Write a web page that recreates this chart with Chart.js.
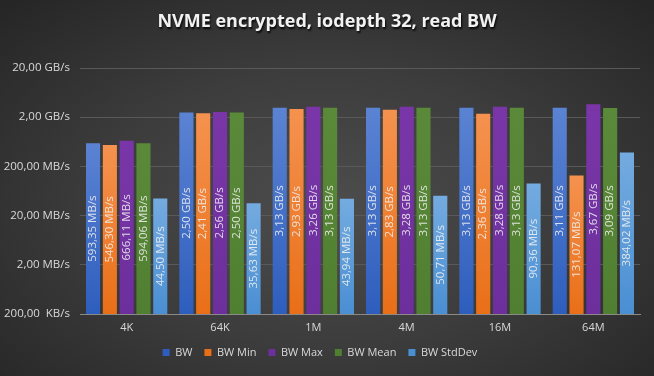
<!DOCTYPE html>
<html><head><meta charset="utf-8">
<script src="https://cdn.jsdelivr.net/npm/chart.js@4"></script>
<style>
html,body{margin:0;padding:0;}
body{width:654px;height:376px;overflow:hidden;background:radial-gradient(ellipse 70% 75% at 50% 55%, #4d4d4d 0%, #3c3c3c 50%, #262626 100%);}
#wrap{width:654px;height:376px;position:relative;}
</style></head>
<body><div id="wrap"><canvas id="c"></canvas></div>
<script>
const categories = ['4K', '64K', '1M', '4M', '16M', '64M'];
const seriesNames = ['BW', 'BW Min', 'BW Max', 'BW Mean', 'BW StdDev'];
// values in MB/s
const bw     = [593.35, 2500, 3130, 3130, 3130, 3110];
const bwMin  = [546.30, 2410, 2930, 2830, 2360, 131.07];
const bwMax  = [666.11, 2560, 3260, 3280, 3280, 3670];
const bwMean = [594.06, 2500, 3130, 3130, 3130, 3090];
const bwStd  = [44.50, 35.63, 43.94, 50.71, 90.36, 384.02];
const yTickValues = [0.2, 2, 20, 200, 2000, 20000];
const yTickLabels = ['200,00  KB/s', '2,00 MB/s', '20,00 MB/s', '200,00 MB/s', '2,00 GB/s', '20,00 GB/s'];

const colors = [
  ['#5b83d3', '#2e5ebd'],
  ['#f5924f', '#e96f17'],
  ['#7a36a8', '#6c2f9c'],
  ['#5a8a39', '#507f31'],
  ['#74abe0', '#4a8fd3']
];

function fmt(v) {
  if (v >= 1000) return (v / 1000).toFixed(2).replace('.', ',') + ' GB/s';
  return v.toFixed(2).replace('.', ',') + ' MB/s';
}

function grad(i) {
  return (ctx) => {
    const chart = ctx.chart;
    const y = chart.scales && chart.scales.y;
    if (!y || ctx.raw === undefined || !chart.chartArea) return colors[i][1];
    const top = y.getPixelForValue(ctx.raw);
    const bot = chart.chartArea.bottom;
    const g = chart.ctx.createLinearGradient(0, top, 0, bot);
    g.addColorStop(0, colors[i][0]);
    g.addColorStop(1, colors[i][1]);
    return g;
  };
}

const seriesData = [bw, bwMin, bwMax, bwMean, bwStd];

const labelPlugin = {
  id: 'barLabels',
  afterDatasetsDraw(chart) {
    const c = chart.ctx;
    c.save();
    c.font = '11.5px "Open Sans"';
    c.fillStyle = 'rgba(240,240,240,0.88)';
    c.textAlign = 'center';
    c.textBaseline = 'middle';
    chart.data.datasets.forEach((ds, di) => {
      const meta = chart.getDatasetMeta(di);
      meta.data.forEach((el, i) => {
        const cy = (el.y + el.base) / 2;
        c.save();
        c.translate(el.x, cy);
        c.rotate(-Math.PI / 2);
        c.fillText(fmt(ds.data[i]), 0, 0);
        c.restore();
      });
    });
    c.restore();
  }
};

const titlePlugin = {
  id: 'shadowTitle',
  afterDraw(chart) {
    const c = chart.ctx;
    c.save();
    c.font = 'bold 18px "Open Sans"';
    c.textAlign = 'center';
    c.textBaseline = 'middle';
    c.shadowColor = 'rgba(0,0,0,0.85)';
    c.shadowOffsetX = 1;
    c.shadowOffsetY = 1.5;
    c.shadowBlur = 2;
    c.fillStyle = '#f2f2f2';
    c.fillText('NVME encrypted, iodepth 32, read BW', 327, 22);
    c.restore();
  }
};

new Chart(document.getElementById('c'), {
  type: 'bar',
  data: {
    labels: categories,
    datasets: seriesNames.map((n, i) => ({
      label: n,
      data: seriesData[i],
      backgroundColor: grad(i),
      borderWidth: 0,
      categoryPercentage: 0.9,
      barPercentage: 0.84
    }))
  },
  options: {
    responsive: true,
    maintainAspectRatio: false,
    animation: false,
    layout: { padding: { left: 0, right: 14, top: 68, bottom: 8 } },
    plugins: {
      title: { display: false },
      tooltip: { enabled: false },
      legend: {
        position: 'bottom',
        labels: {
          color: '#d9d9d9',
          font: { size: 11, family: '"Open Sans"' },
          boxWidth: 7, boxHeight: 7, padding: 12,
          generateLabels(chart) {
            return chart.data.datasets.map((ds, i) => ({
              text: ds.label, fillStyle: colors[i][1], strokeStyle: colors[i][1],
              lineWidth: 0, datasetIndex: i, fontColor: '#d9d9d9'
            }));
          }
        }
      }
    },
    scales: {
      x: {
        grid: { display: false, drawTicks: false },
        border: { display: true, color: '#8a8a8a', width: 1 },
        ticks: { color: '#d9d9d9', font: { size: 11, family: '"Open Sans"' }, padding: 7 },
        afterFit(s) { s.height = 21; }
      },
      y: {
        type: 'logarithmic',
        min: 0.2, max: 20000,
        grid: { color: '#595959', drawTicks: false },
        border: { display: false },
        ticks: {
          color: '#d9d9d9', font: { size: 11.5, family: '"Open Sans"' }, padding: 10,
          callback(v) { const i = yTickValues.findIndex(t => Math.abs(t - v) / t < 1e-6); return i >= 0 ? yTickLabels[i] : ''; }
        },
        afterBuildTicks(axis) { axis.ticks = yTickValues.map(v => ({ value: v })); },
        afterFit(s) { s.width = 80; }
      }
    }
  },
  plugins: [labelPlugin, titlePlugin]
});
</script>
</body></html>
